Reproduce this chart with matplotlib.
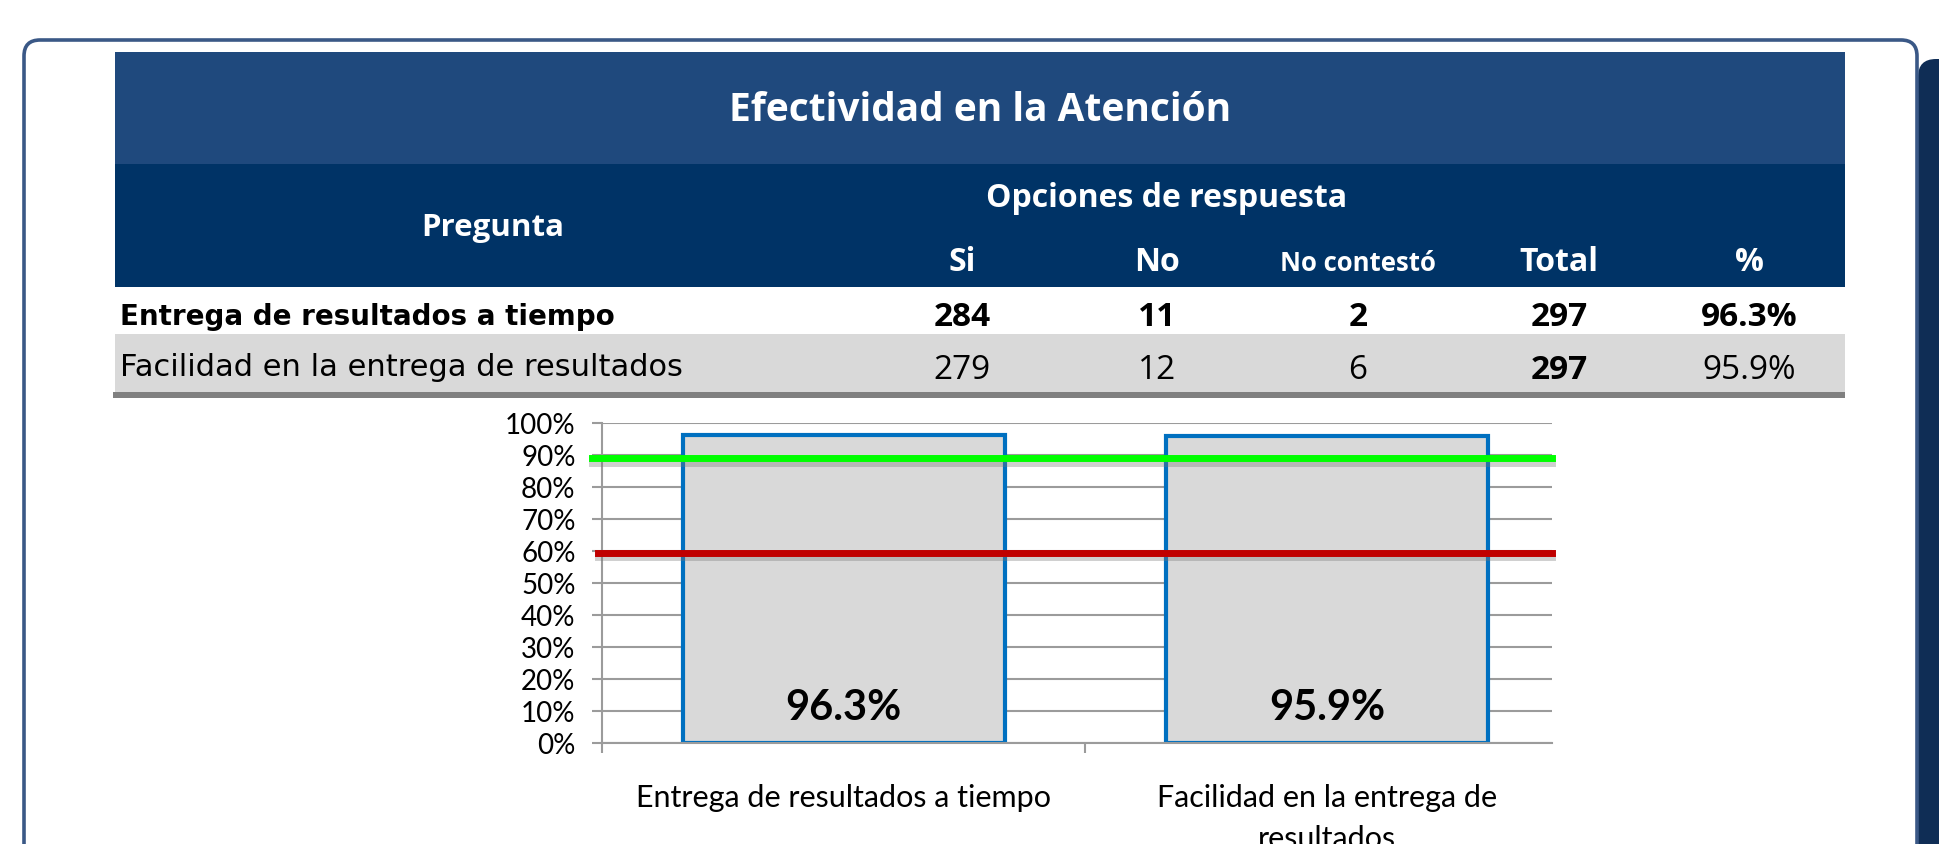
import numpy as np
import matplotlib
matplotlib.use("Agg")
import matplotlib.pyplot as plt
import matplotlib.patheffects as pe
from matplotlib.patches import Rectangle, FancyBboxPatch

# datos de la tabla
preguntas = ["Entrega de resultados a tiempo", "Facilidad en la entrega de resultados"]
si = [284, 279]
no = [11, 12]
no_contesto = [2, 6]
total = [297, 297]
porcentaje = [0.963, 0.959]

# datos de la grafica
etiquetas_x = ["Entrega de resultados a tiempo", "Facilidad en la entrega de\nresultados"]
meta_alta = 0.89
meta_baja = 0.595
ticks_y = np.arange(0, 1.01, 0.1)

W, H = 1940, 845
fig = plt.figure(figsize=(W / 100, H / 100), dpi=100)
fig.patch.set_facecolor("white")

# capa de fondo en pixeles (y hacia abajo)
bg = fig.add_axes([0, 0, 1, 1], zorder=0)
bg.set_xlim(0, W)
bg.set_ylim(H, 0)
bg.axis("off")

# marco redondeado y franja azul de la derecha
bg.add_patch(FancyBboxPatch((1918, 60), 80, 900, boxstyle="round,pad=0,rounding_size=18",
                            fc="#0f2d55", ec="none"))
bg.add_patch(FancyBboxPatch((24, 41), 1893, 900, boxstyle="round,pad=0,rounding_size=16",
                            fc="white", ec="#3a5886", lw=2.6))

# encabezado de la tabla
bg.add_patch(Rectangle((115, 53), 1730, 112, fc="#1f497d", ec="none"))
bg.add_patch(Rectangle((115, 165), 1730, 123, fc="#003366", ec="none"))
bg.add_patch(Rectangle((115, 335), 1730, 58, fc="#d9d9d9", ec="none"))
bg.add_patch(Rectangle((113, 393), 1732, 6, fc="#808080", ec="none"))

head_font = ["Open Sans", "DejaVu Sans"]
row_font = ["DejaVu Sans"]

bg.text(980, 121, "Efectividad en la Atención", color="white", fontsize=28,
        fontweight="bold", family=head_font, ha="center", va="baseline")
bg.text(1167, 207, "Opciones de respuesta", color="white", fontsize=23,
        fontweight="bold", family=head_font, ha="center", va="baseline")
bg.text(493, 236, "Pregunta", color="white", fontsize=22.5,
        fontweight="bold", family=head_font, ha="center", va="baseline")

col_x = [962, 1157, 1358, 1559, 1749]
col_names = ["Si", "No", "No contestó", "Total", "%"]
col_sizes = [23, 23, 18.5, 23, 23]
for cx, name, fs in zip(col_x, col_names, col_sizes):
    bg.text(cx, 271, name, color="white", fontsize=fs, fontweight="bold",
            family=head_font, ha="center", va="baseline")

# filas
row_base = [325, 376]
num_base = [326, 379]
for i, preg in enumerate(preguntas):
    bold = i == 0
    bg.text(120, row_base[i], preg, color="black", fontsize=20 if bold else 22,
            fontweight="bold" if bold else "normal", family=row_font,
            ha="left", va="baseline")
    vals = [str(si[i]), str(no[i]), str(no_contesto[i]), str(total[i]),
            f"{porcentaje[i] * 100:.1f}%"]
    for j, (cx, v) in enumerate(zip(col_x, vals)):
        w = "bold" if (bold or j == 3) else "normal"
        bg.text(cx, num_base[i], v, color="black", fontsize=24, fontweight=w,
                family=head_font, ha="center", va="baseline")

# grafica de barras
chart_font = ["Lato", "DejaVu Sans"]
ax = fig.add_axes([602 / W, 1 - 744 / H, 950 / W, 320 / H], zorder=1)
ax.patch.set_alpha(0)
x = np.arange(len(porcentaje))
grid_c = "#9b9b9b"

ax.bar(x, porcentaje, width=0.666, color="#d9d9d9", edgecolor="#0070c0",
       linewidth=3, zorder=2)
for xi, v in zip(x, porcentaje):
    ax.text(xi, 0.112, f"{v * 100:.1f}%", ha="center", va="center",
            fontsize=30, fontweight="bold", family=chart_font, zorder=3)

shadow = [pe.SimpleLineShadow(offset=(0, -3.5), shadow_color="#777777", alpha=0.35),
          pe.Normal()]
ax.axhline(meta_alta, xmin=-0.0105, xmax=1, color="#00ff00", lw=5, zorder=4,
           clip_on=False, path_effects=shadow)
ax.axhline(meta_baja, xmin=-0.004, xmax=1, color="#c00000", lw=5, zorder=4,
           clip_on=False, path_effects=shadow)

ax.set_xlim(-0.5, 1.465)
ax.set_ylim(0, 1)
ax.set_yticks(ticks_y)
ax.set_yticklabels([f"{t * 100:.0f}%" for t in ticks_y], family=chart_font, fontsize=20)
ax.yaxis.grid(True, color=grid_c, lw=1.5, zorder=0)
ax.set_axisbelow(True)
ax.tick_params(axis="y", length=7, width=1.5, color=grid_c, pad=12)

ax.set_xticks([-0.5, 0.5])
ax.set_xticklabels(["", ""])
ax.set_xticks(x, minor=True)
ax.set_xticklabels(etiquetas_x, minor=True, family=chart_font, fontsize=22,
                   linespacing=1.55)
ax.tick_params(axis="x", which="major", length=7, width=1.5, color=grid_c, direction="out")
ax.tick_params(axis="x", which="minor", length=0, pad=29)

for s in ["top", "right"]:
    ax.spines[s].set_visible(False)
for s in ["left", "bottom"]:
    ax.spines[s].set_color(grid_c)
    ax.spines[s].set_linewidth(1.5)

fig.savefig("out.png", dpi=100)
